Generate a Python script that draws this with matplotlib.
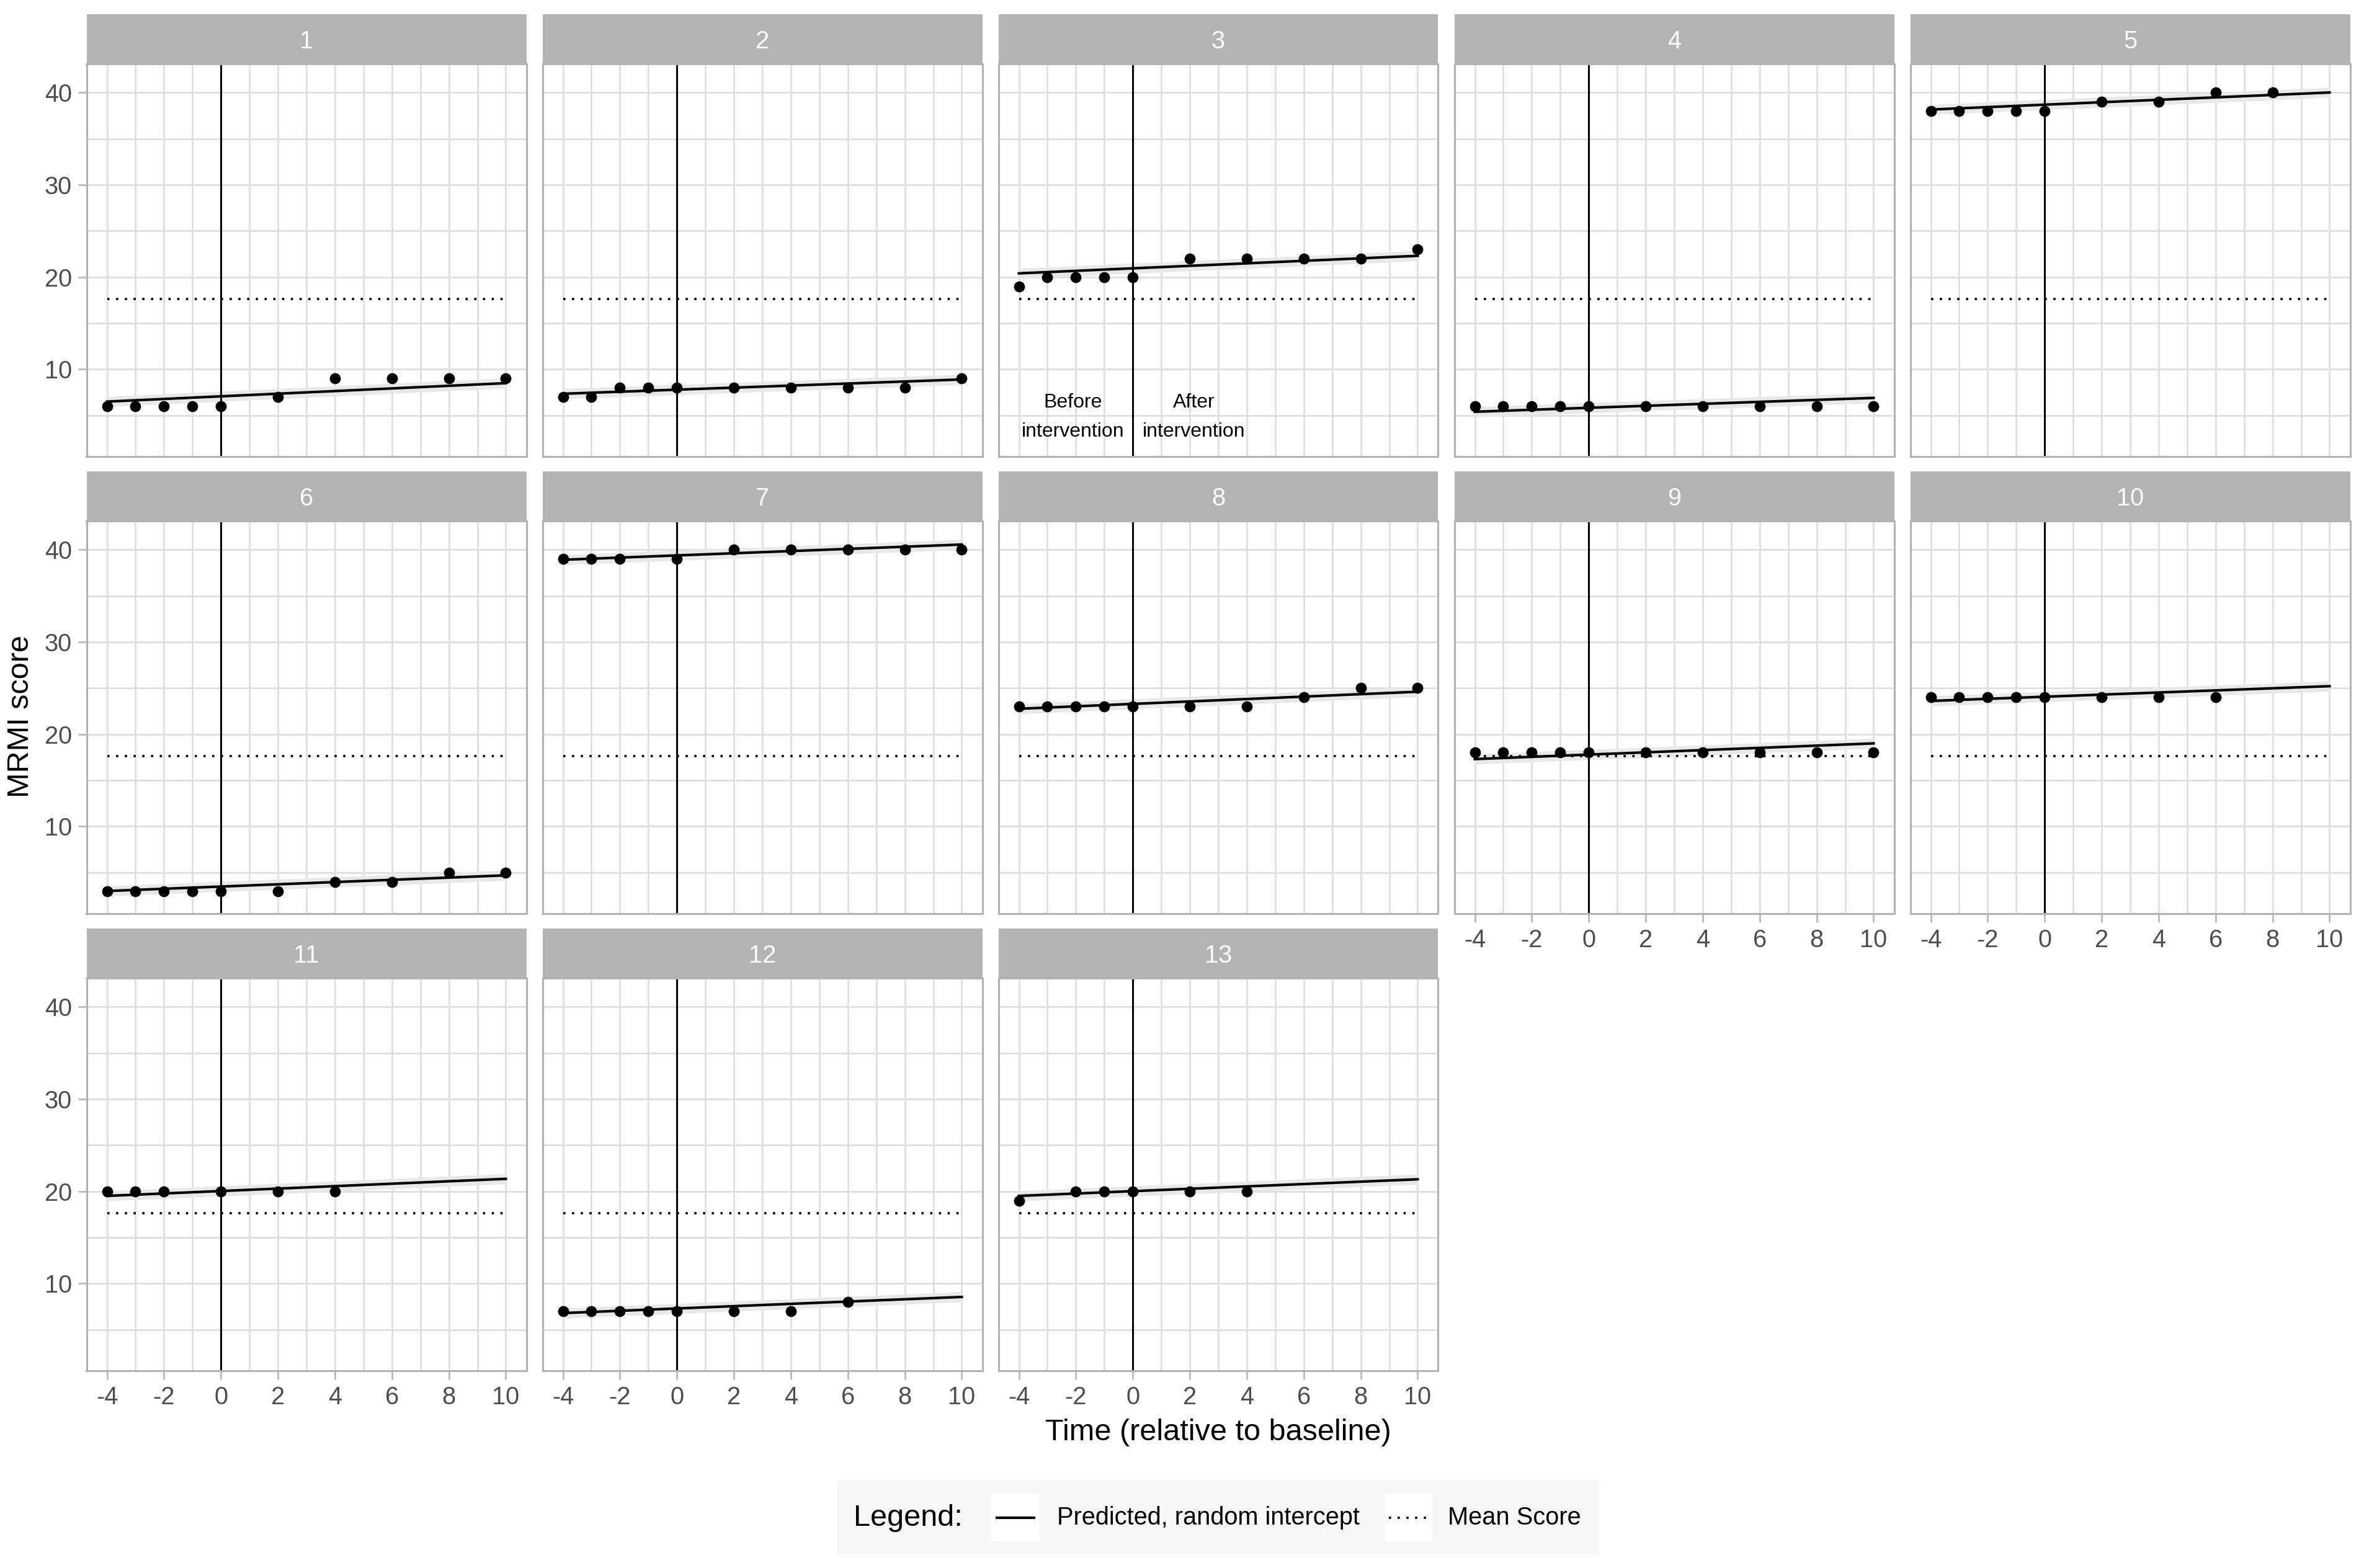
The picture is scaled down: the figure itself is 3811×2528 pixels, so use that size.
import numpy as np
import matplotlib.pyplot as plt
from matplotlib.patches import Rectangle

plt.rcParams['font.family'] = ['Liberation Sans', 'DejaVu Sans']
plt.rcParams['axes.unicode_minus'] = False

# observed scores per subject (time relative to baseline)
full_t = [-4, -3, -2, -1, 0, 2, 4, 6, 8, 10]
obs_time = [
    full_t, full_t, full_t, full_t,
    [-4, -3, -2, -1, 0, 2, 4, 6, 8],
    full_t,
    [-4, -3, -2, 0, 2, 4, 6, 8, 10],
    full_t, full_t,
    [-4, -3, -2, -1, 0, 2, 4, 6],
    [-4, -3, -2, 0, 2, 4],
    [-4, -3, -2, -1, 0, 2, 4, 6],
    [-4, -2, -1, 0, 2, 4],
]
obs_score = [
    [6, 6, 6, 6, 6, 7, 9, 9, 9, 9],
    [7, 7, 8, 8, 8, 8, 8, 8, 8, 9],
    [19, 20, 20, 20, 20, 22, 22, 22, 22, 23],
    [6, 6, 6, 6, 6, 6, 6, 6, 6, 6],
    [38, 38, 38, 38, 38, 39, 39, 40, 40],
    [3, 3, 3, 3, 3, 3, 4, 4, 5, 5],
    [39, 39, 39, 39, 40, 40, 40, 40, 40],
    [23, 23, 23, 23, 23, 23, 23, 24, 25, 25],
    [18, 18, 18, 18, 18, 18, 18, 18, 18, 18],
    [24, 24, 24, 24, 24, 24, 24, 24],
    [20, 20, 20, 20, 20, 20],
    [7, 7, 7, 7, 7, 7, 7, 8],
    [19, 20, 20, 20, 20, 20],
]

# predicted (random intercept) line, at t = -4 and t = 10
pred_t = [-4, 10]
pred_start = [6.5, 7.35, 20.4, 5.4, 38.15, 3.0, 38.9, 22.75, 17.3, 23.6, 19.5, 6.8, 19.5]
pred_end = [8.5, 8.9, 22.3, 6.9, 40.0, 4.7, 40.55, 24.6, 19.0, 25.2, 21.35, 8.55, 21.3]
ci_half = 0.55
mean_score = 17.6

W, H = 3811, 2528
fig = plt.figure(figsize=(W / 200, H / 200), dpi=200)


def box(left, top, w, h):
    return [left / W, 1 - (top + h) / H, w / W, h / H]


col_left = [139.5, 874.5, 1609.5, 2344.5, 3079.5]
strip_top = [23, 760, 1497]
pw, ph, sh = 709, 633, 80
grid_c = '#DEDEDE'
border_c = '#B3B3B3'
dot_style = (0, (1, 2.9))

for i in range(13):
    r, c = divmod(i, 5)
    ax = fig.add_axes(box(col_left[c], strip_top[r] + sh, pw, ph))
    ax.set_xlim(-4.72, 10.72)
    ax.set_ylim(0.55, 43.1)
    ax.set_xticks([-4, -2, 0, 2, 4, 6, 8, 10])
    ax.set_xticks([-3, -1, 1, 3, 5, 7, 9], minor=True)
    ax.set_yticks([10, 20, 30, 40])
    ax.set_yticks([5, 15, 25, 35], minor=True)
    ax.grid(True, which='both', color=grid_c, lw=0.95, zorder=0)
    ax.set_axisbelow(True)
    for s in ax.spines.values():
        s.set_color(border_c)
        s.set_linewidth(1.1)
    ax.tick_params(which='minor', length=0)
    ax.tick_params(which='major', length=5, width=0.9, color=border_c,
                   labelcolor='#4D4D4D', labelsize=14.3, pad=3.5)

    show_x = (r == 2) or (r == 1 and c >= 3)
    show_y = (c == 0)
    if not show_x:
        ax.tick_params(axis='x', length=0, labelbottom=False)
    if not show_y:
        ax.tick_params(axis='y', length=0, labelleft=False)

    lo = [pred_start[i] - ci_half, pred_end[i] - ci_half]
    hi = [pred_start[i] + ci_half, pred_end[i] + ci_half]
    ax.fill_between(pred_t, lo, hi, color='#E8E8E8', lw=0, zorder=1)
    ax.axvline(0, color='black', lw=1.1, zorder=2)
    ax.plot([-4, 10], [mean_score, mean_score], color='black', lw=1.3,
            linestyle=dot_style, dash_capstyle='butt', zorder=3)
    ax.plot(pred_t, [pred_start[i], pred_end[i]], color='black', lw=1.5, zorder=4)
    ax.plot(obs_time[i], obs_score[i], 'o', color='black', ms=6.4, mew=0, zorder=5)

    if i == 2:
        ax.text(-2.1, 4.8, 'Before\nintervention', ha='center', va='center',
                fontsize=11.5, linespacing=1.75)
        ax.text(2.15, 4.8, 'After\nintervention', ha='center', va='center',
                fontsize=11.5, linespacing=1.75)

    sax = fig.add_axes(box(col_left[c], strip_top[r], pw, sh))
    sax.set_facecolor('#B3B3B3')
    sax.set_xticks([])
    sax.set_yticks([])
    for s in sax.spines.values():
        s.set_visible(False)
    sax.text(0.5, 0.45, str(i + 1), color='white', fontsize=14.3,
             ha='center', va='center', transform=sax.transAxes)

fig.text(1964 / W, 1 - 2309 / H, 'Time (relative to baseline)', fontsize=17.5,
         ha='center', va='center')
fig.text(34 / W, 1 - 1155 / H, 'MRMI score', fontsize=17.5, rotation=90,
         ha='center', va='center')

# legend drawn in pixel coordinates
lax = fig.add_axes([0, 0, 1, 1])
lax.set_xlim(0, W)
lax.set_ylim(H, 0)
lax.axis('off')
lax.add_patch(Rectangle((1350, 2386), 1227, 120, color='#F7F7F7', lw=0))
lax.add_patch(Rectangle((1598, 2408), 77, 77, color='white', lw=0))
lax.add_patch(Rectangle((2233, 2408), 77, 77, color='white', lw=0))
lax.plot([1607, 1667], [2447, 2447], color='black', lw=1.5)
lax.plot([2239, 2303], [2447, 2447], color='black', lw=1.3, linestyle=dot_style,
         dash_capstyle='butt')
lax.text(1376, 2447, 'Legend:', fontsize=17.5, ha='left', va='center')
lax.text(1704, 2447, 'Predicted, random intercept', fontsize=14.3, ha='left', va='center')
lax.text(2334, 2447, 'Mean Score', fontsize=14.3, ha='left', va='center')

fig.savefig('out.png', dpi=200, facecolor='white')
